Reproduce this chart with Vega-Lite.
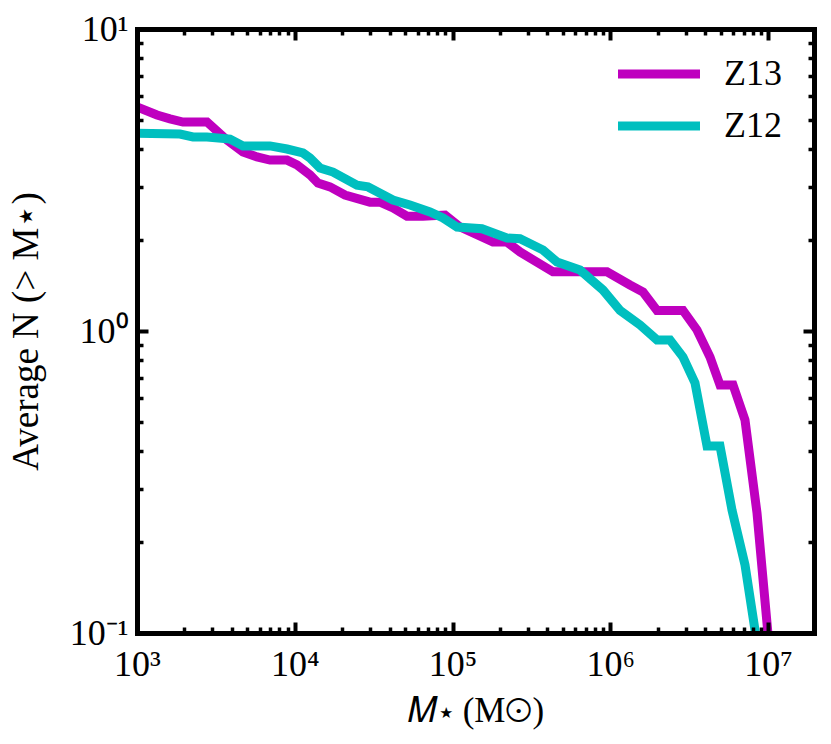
{
  "$schema": "https://vega.github.io/schema/vega-lite/v6.json",
  "width": 677,
  "height": 604,
  "autosize": {"type": "none"},
  "padding": {"left": 137, "top": 29, "right": 17, "bottom": 111},
  "background": "white",
  "config": {"view": {"stroke": null}, "font": "Liberation Serif"},
  "data": {
    "values": [
      {"series": "Z13", "mass": 1000, "n": 5.52},
      {"series": "Z13", "mass": 1339, "n": 5.19},
      {"series": "Z13", "mass": 1619, "n": 5.04},
      {"series": "Z13", "mass": 1957, "n": 4.92},
      {"series": "Z13", "mass": 2778, "n": 4.92},
      {"series": "Z13", "mass": 3720, "n": 4.29},
      {"series": "Z13", "mass": 4697, "n": 3.915},
      {"series": "Z13", "mass": 5764, "n": 3.77},
      {"series": "Z13", "mass": 6969, "n": 3.68},
      {"series": "Z13", "mass": 8930, "n": 3.68},
      {"series": "Z13", "mass": 10335, "n": 3.55},
      {"series": "Z13", "mass": 12496, "n": 3.29},
      {"series": "Z13", "mass": 14043, "n": 3.09},
      {"series": "Z13", "mass": 16729, "n": 3.0},
      {"series": "Z13", "mass": 20823, "n": 2.82},
      {"series": "Z13", "mass": 29992, "n": 2.67},
      {"series": "Z13", "mass": 34706, "n": 2.67},
      {"series": "Z13", "mass": 41958, "n": 2.555},
      {"series": "Z13", "mass": 51466, "n": 2.4},
      {"series": "Z13", "mass": 65013, "n": 2.4},
      {"series": "Z13", "mass": 89661, "n": 2.42},
      {"series": "Z13", "mass": 111563, "n": 2.21},
      {"series": "Z13", "mass": 180552, "n": 1.97},
      {"series": "Z13", "mass": 221530, "n": 1.97},
      {"series": "Z13", "mass": 267916, "n": 1.827},
      {"series": "Z13", "mass": 433614, "n": 1.57},
      {"series": "Z13", "mass": 953660, "n": 1.57},
      {"series": "Z13", "mass": 1334000, "n": 1.42},
      {"series": "Z13", "mass": 1613400, "n": 1.346},
      {"series": "Z13", "mass": 1979000, "n": 1.17},
      {"series": "Z13", "mass": 2892000, "n": 1.17},
      {"series": "Z13", "mass": 3548000, "n": 1.008},
      {"series": "Z13", "mass": 4288000, "n": 0.82},
      {"series": "Z13", "mass": 4963000, "n": 0.663},
      {"series": "Z13", "mass": 6000000, "n": 0.663},
      {"series": "Z13", "mass": 7149000, "n": 0.507},
      {"series": "Z13", "mass": 8518000, "n": 0.2496},
      {"series": "Z13", "mass": 10146000, "n": 0.0912},
      {"series": "Z12", "mass": 1000, "n": 4.52},
      {"series": "Z12", "mass": 1874, "n": 4.49},
      {"series": "Z12", "mass": 2265, "n": 4.39},
      {"series": "Z12", "mass": 2778, "n": 4.39},
      {"series": "Z12", "mass": 3886, "n": 4.32},
      {"series": "Z12", "mass": 4697, "n": 4.1},
      {"series": "Z12", "mass": 6969, "n": 4.1},
      {"series": "Z12", "mass": 8930, "n": 4.005},
      {"series": "Z12", "mass": 11279, "n": 3.885},
      {"series": "Z12", "mass": 12496, "n": 3.74},
      {"series": "Z12", "mass": 14459, "n": 3.465},
      {"series": "Z12", "mass": 17479, "n": 3.36},
      {"series": "Z12", "mass": 24806, "n": 3.04},
      {"series": "Z12", "mass": 29128, "n": 3.0},
      {"series": "Z12", "mass": 41958, "n": 2.716},
      {"series": "Z12", "mass": 53770, "n": 2.614},
      {"series": "Z12", "mass": 72011, "n": 2.478},
      {"series": "Z12", "mass": 87083, "n": 2.367},
      {"series": "Z12", "mass": 106783, "n": 2.21},
      {"series": "Z12", "mass": 153815, "n": 2.18},
      {"series": "Z12", "mass": 221530, "n": 2.032},
      {"series": "Z12", "mass": 267916, "n": 2.02},
      {"series": "Z12", "mass": 374713, "n": 1.854},
      {"series": "Z12", "mass": 459642, "n": 1.692},
      {"series": "Z12", "mass": 642950, "n": 1.592},
      {"series": "Z12", "mass": 899498, "n": 1.367},
      {"series": "Z12", "mass": 1153180, "n": 1.17},
      {"series": "Z12", "mass": 1544200, "n": 1.047},
      {"series": "Z12", "mass": 1979000, "n": 0.934},
      {"series": "Z12", "mass": 2392000, "n": 0.934},
      {"series": "Z12", "mass": 2892000, "n": 0.82},
      {"series": "Z12", "mass": 3445000, "n": 0.673},
      {"series": "Z12", "mass": 4105000, "n": 0.416},
      {"series": "Z12", "mass": 4963000, "n": 0.416},
      {"series": "Z12", "mass": 5912000, "n": 0.2555},
      {"series": "Z12", "mass": 7149000, "n": 0.168},
      {"series": "Z12", "mass": 8271000, "n": 0.1023},
      {"series": "Z12", "mass": 8518000, "n": 0.0878}
    ]
  },
  "layer": [
    {
      "transform": [{"filter": "datum.series == 'Z13'"}],
      "mark": {"type": "line", "clip": true, "strokeWidth": 9},
      "encoding": {
        "x": {
          "field": "mass", "type": "quantitative",
          "scale": {"type": "log", "domain": [1000, 19570000], "nice": false},
          "axis": {
            "orient": "bottom",
            "values": [1000,2000,3000,4000,5000,6000,7000,8000,9000,10000,20000,30000,40000,50000,60000,70000,80000,90000,100000,200000,300000,400000,500000,600000,700000,800000,900000,1000000,2000000,3000000,4000000,5000000,6000000,7000000,8000000,9000000,10000000],
            "labelExpr": "datum.value==1000?'10³':datum.value==10000?'10⁴':datum.value==100000?'10⁵':datum.value==1000000?'10⁶':datum.value==10000000?'10⁷':''",
            "tickSize": {"condition": {"test": "datum.value==1000||datum.value==10000||datum.value==100000||datum.value==1000000||datum.value==10000000", "value": -11}, "value": -6},
            "tickWidth": {"condition": {"test": "datum.value==1000||datum.value==10000||datum.value==100000||datum.value==1000000||datum.value==10000000", "value": 4}, "value": 3.5},
            "tickColor": "black",
            "domainColor": "black", "domainWidth": 5, "domainCap": "square",
            "grid": false,
            "labelFont": "Liberation Serif", "labelFontSize": 36, "labelColor": "black",
            "labelPadding": 25, "labelFlush": false, "labelOverlap": false, "labelBaseline": "top",
            "title": "𝑀⋆ (M⊙)",
            "titleFont": "Liberation Serif", "titleFontSize": 35, "titleFontWeight": "normal", "titleColor": "black",
            "titlePadding": 6,
            "zindex": 1
          }
        },
        "y": {
          "field": "n", "type": "quantitative",
          "scale": {"type": "log", "domain": [0.1, 10], "nice": false},
          "axis": {
            "orient": "left",
            "values": [0.1,0.2,0.3,0.4,0.5,0.6,0.7,0.8,0.9,1,2,3,4,5,6,7,8,9,10],
            "labelExpr": "datum.value==10?'10¹':datum.value==1?'10⁰':datum.value==0.1?'10⁻¹':''",
            "tickSize": {"condition": {"test": "datum.value==0.1||datum.value==1||datum.value==10", "value": -11}, "value": -6},
            "tickWidth": {"condition": {"test": "datum.value==0.1||datum.value==1||datum.value==10", "value": 4}, "value": 3.5},
            "tickColor": "black",
            "domainColor": "black", "domainWidth": 5, "domainCap": "square",
            "grid": false,
            "labelFont": "Liberation Serif", "labelFontSize": 36, "labelColor": "black",
            "labelPadding": 20, "labelFlush": false, "labelOverlap": false,
            "title": "Average N (> M⋆)",
            "titleFont": "Liberation Serif", "titleFontSize": 37, "titleFontWeight": "normal", "titleColor": "black",
            "titlePadding": 24,
            "zindex": 1
          }
        },
        "color": {
          "field": "series", "type": "nominal",
          "scale": {"domain": ["Z13", "Z12"], "range": ["#bf00bf", "#00bfbf"]},
          "legend": {
            "orient": "none", "legendX": 497, "legendY": 20, "title": null,
            "symbolType": "M-2,0H2", "symbolSize": 1681, "symbolStrokeWidth": 9,
            "labelFont": "Liberation Serif", "labelFontSize": 36, "labelColor": "black",
            "labelOffset": 40, "rowPadding": 9, "padding": 0, "offset": 0
          }
        }
      }
    },
    {
      "transform": [{"filter": "datum.series == 'Z12'"}],
      "mark": {"type": "line", "clip": true, "strokeWidth": 9},
      "encoding": {
        "x": {
          "field": "mass", "type": "quantitative",
          "scale": {"type": "log", "domain": [1000, 19570000], "nice": false},
          "axis": {
            "orient": "top",
            "values": [1000,2000,3000,4000,5000,6000,7000,8000,9000,10000,20000,30000,40000,50000,60000,70000,80000,90000,100000,200000,300000,400000,500000,600000,700000,800000,900000,1000000,2000000,3000000,4000000,5000000,6000000,7000000,8000000,9000000,10000000],
            "labels": false,
            "tickSize": {"condition": {"test": "datum.value==1000||datum.value==10000||datum.value==100000||datum.value==1000000||datum.value==10000000", "value": -11}, "value": -6},
            "tickWidth": {"condition": {"test": "datum.value==1000||datum.value==10000||datum.value==100000||datum.value==1000000||datum.value==10000000", "value": 4}, "value": 3.5},
            "tickColor": "black",
            "domainColor": "black", "domainWidth": 5, "domainCap": "square",
            "grid": false, "title": null, "zindex": 1
          }
        },
        "y": {
          "field": "n", "type": "quantitative",
          "scale": {"type": "log", "domain": [0.1, 10], "nice": false},
          "axis": {
            "orient": "right",
            "values": [0.1,0.2,0.3,0.4,0.5,0.6,0.7,0.8,0.9,1,2,3,4,5,6,7,8,9,10],
            "labels": false,
            "tickSize": {"condition": {"test": "datum.value==0.1||datum.value==1||datum.value==10", "value": -11}, "value": -6},
            "tickWidth": {"condition": {"test": "datum.value==0.1||datum.value==1||datum.value==10", "value": 4}, "value": 3.5},
            "tickColor": "black",
            "domainColor": "black", "domainWidth": 5, "domainCap": "square",
            "grid": false, "title": null, "zindex": 1
          }
        },
        "color": {
          "field": "series", "type": "nominal",
          "scale": {"domain": ["Z13", "Z12"], "range": ["#bf00bf", "#00bfbf"]}
        }
      }
    }
  ],
  "resolve": {"axis": {"x": "independent", "y": "independent"}}
}
